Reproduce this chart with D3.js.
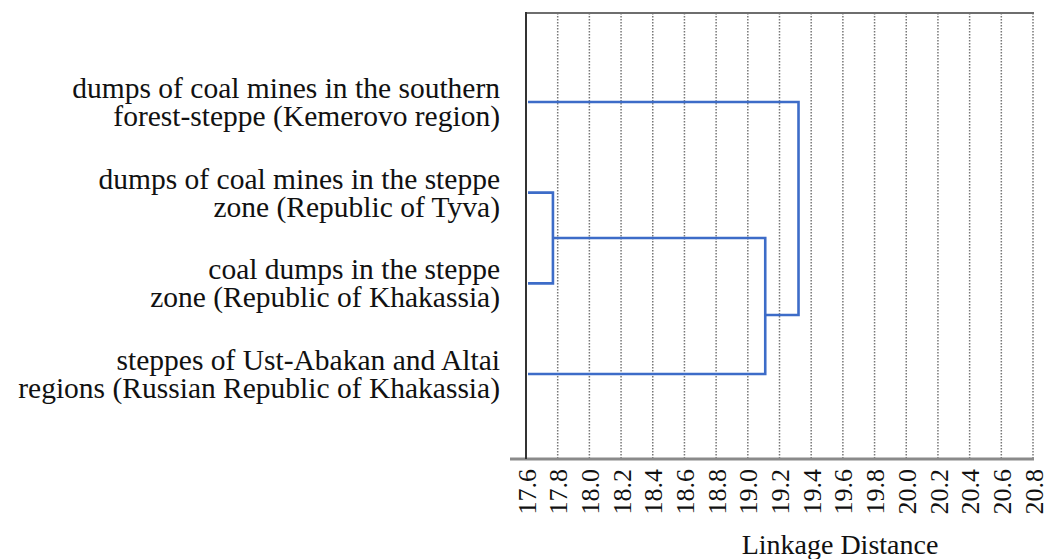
<!DOCTYPE html>
<html><head><meta charset="utf-8">
<script src="https://cdn.jsdelivr.net/npm/d3@7"></script>
<style>body{margin:0;background:#fff}</style>
</head><body>
<svg id="c" width="1051" height="559"></svg>
<script>
// Leaves, top to bottom (two-line labels)
const leaves = [
  ["dumps of coal mines in the southern", "forest-steppe (Kemerovo region)"],
  ["dumps of coal mines in the steppe", "zone (Republic of Tyva)"],
  ["coal dumps in the steppe", "zone (Republic of Khakassia)"],
  ["steppes of Ust-Abakan and Altai", "regions (Russian Republic of Khakassia)"]
];
const leafDistance = 17.6;
// merges: children (leaf index or "n"+merge index), linkage distance, row position of the join
const mergeA = [1, "n0", 0];
const mergeB = [2, 3, "n1"];
const mergeDist = [17.77, 19.11, 19.32];
const mergeRow = [1.5, 2.35, 1.17];
const ticks = [17.6,17.8,18.0,18.2,18.4,18.6,18.8,19.0,19.2,19.4,19.6,19.8,20.0,20.2,20.4,20.6,20.8];
const xTitle = "Linkage Distance";

(function(){
const svg = d3.select("#c");
const x = d3.scaleLinear().domain([17.6, 20.8]).range([526, 1033]);
const row = d3.scaleLinear().domain([0, 3]).range([102, 374]);
const yTop = 13, yBottom = 459;

// grid lines
svg.append("g").selectAll("line").data(ticks.slice(1)).join("line")
  .attr("x1", d => x(d)).attr("x2", d => x(d)).attr("y1", yTop).attr("y2", yBottom)
  .attr("stroke", "#777").attr("stroke-width", 1.5).attr("stroke-dasharray", "1.5,1.5");

// top border
svg.append("line").attr("x1", x(17.6)).attr("x2", x(20.8)+1).attr("y1", yTop).attr("y2", yTop)
  .attr("stroke", "#6e6e6e").attr("stroke-width", 2);

// bottom axis
const ax = d3.axisBottom(x).tickValues(ticks).tickFormat(d3.format(".1f")).tickSize(0);
const gAx = svg.append("g").attr("transform", `translate(0,${yBottom})`).call(ax);
gAx.select(".domain").remove();
svg.append("line").attr("x1", 510).attr("x2", x(20.8)+1).attr("y1", yBottom).attr("y2", yBottom)
  .attr("stroke", "#8a8a8a").attr("stroke-width", 3);
gAx.selectAll("text")
  .attr("font-family", "Liberation Serif").attr("font-size", 26).attr("fill", "#111")
  .attr("transform", "rotate(-90)").attr("text-anchor", "end")
  .attr("x", -10).attr("y", 0).attr("dy", "0.35em");

// left axis
svg.append("line").attr("x1", x(17.6)).attr("x2", x(17.6)).attr("y1", yTop-1).attr("y2", yBottom)
  .attr("stroke", "#333").attr("stroke-width", 2);

// dendrogram
const nodePos = (c) => {
  if (typeof c === "number") return {x: x(leafDistance) + 2, y: row(c)};
  const i = +c.slice(1);
  return {x: x(mergeDist[i]), y: row(mergeRow[i])};
};
const gD = svg.append("g").attr("fill", "none").attr("stroke", "#3d6cc8").attr("stroke-width", 2.6);
mergeDist.forEach((d, i) => {
  const a = nodePos(mergeA[i]), b = nodePos(mergeB[i]);
  const xm = x(d);
  gD.append("path").attr("d", `M${a.x},${a.y}H${xm}V${b.y}H${b.x}`);
});

// leaf labels
const gL = svg.append("g").attr("font-family", "Liberation Serif").attr("font-size", 29.5)
  .attr("fill", "#111").attr("text-anchor", "end");
leaves.forEach((l, i) => {
  const t = gL.append("text").attr("x", 500).attr("y", row(i));
  t.append("tspan").attr("x", 500).attr("dy", -4).text(l[0]);
  t.append("tspan").attr("x", 500).attr("dy", 28).text(l[1]);
});

svg.append("text").attr("x", 840).attr("y", 554).attr("text-anchor", "middle")
  .attr("font-family", "Liberation Serif").attr("font-size", 28).attr("fill", "#111").text(xTitle);
})();
</script>
</body></html>
